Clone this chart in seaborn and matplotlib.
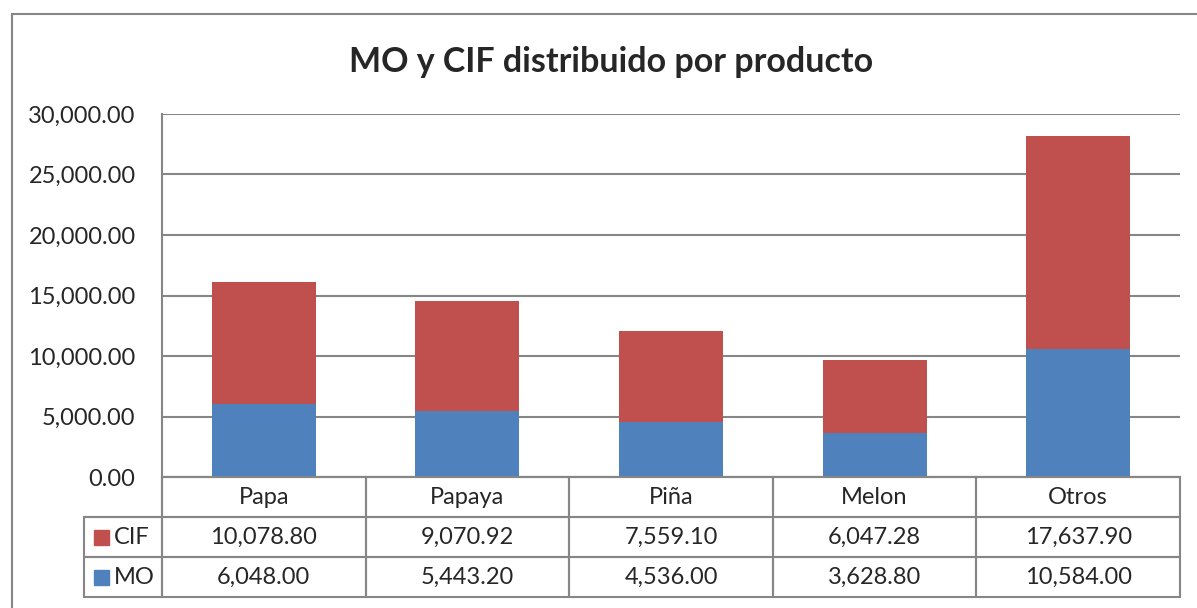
import matplotlib.pyplot as plt
import seaborn as sns
import pandas as pd
from matplotlib.patches import Rectangle
from matplotlib.ticker import FuncFormatter

productos = ['Papa', 'Papaya', 'Piña', 'Melon', 'Otros']
mo = [6048.00, 5443.20, 4536.00, 3628.80, 10584.00]
cif = [10078.80, 9070.92, 7559.10, 6047.28, 17637.90]

azul = '#4F81BD'
rojo = '#C0504D'
gris = '#868686'

sns.set_style('white')
plt.rcParams['font.family'] = ['Lato', 'DejaVu Sans']

df = pd.DataFrame({'producto': productos, 'MO': mo, 'CIF': cif})
df['total'] = df['MO'] + df['CIF']

W, H = 1197, 608
fig = plt.figure(figsize=(W / 100, H / 100), dpi=100)
# plot area in pixels: x 162..1180, y 114..477
ax = fig.add_axes([162 / W, 1 - 477 / H, (1180 - 162) / W, (477 - 114) / H])


def ax_x(px):
    return (px - 162) / 1018


def ax_y(py):
    return (477 - py) / 363


# stacked bars: total (red) behind, MO (blue) in front
sns.barplot(data=df, x='producto', y='total', color=rojo, width=0.51,
            saturation=1, linewidth=0, ax=ax)
sns.barplot(data=df, x='producto', y='MO', color=azul, width=0.51,
            saturation=1, linewidth=0, ax=ax)

ax.set_xlim(-0.5, len(productos) - 0.5)
ax.set_ylim(0, 30000)
ax.set_yticks(range(0, 30001, 5000))
ax.yaxis.set_major_formatter(FuncFormatter(lambda v, p: f'{v:,.2f}'))
ax.tick_params(axis='y', length=0, pad=19, labelsize=17)
ax.set_xticks([])
ax.set_xlabel('')
ax.set_ylabel('')
ax.grid(axis='y', color=gris, linewidth=1.5)
ax.set_axisbelow(True)
for lado in ['top', 'right']:
    ax.spines[lado].set_visible(False)
for lado in ['left', 'bottom']:
    ax.spines[lado].set_color(gris)
    ax.spines[lado].set_linewidth(1.5)

# data table under the plot
celdas = [[''] + productos,
          [''] + [f'{v:,.2f}' for v in cif],
          [''] + [f'{v:,.2f}' for v in mo]]
ancho_lab = 78 / 1018
tabla = ax.table(cellText=celdas, cellLoc='center',
                 colWidths=[ancho_lab] + [1 / 5] * 5,
                 bbox=[-ancho_lab, ax_y(597), 1 + ancho_lab, 120 / 363])
tabla.auto_set_font_size(False)
tabla.set_fontsize(17)
for (r, c), celda in tabla.get_celld().items():
    celda.set_edgecolor(gris)
    celda.set_linewidth(1.5)
    celda.set_facecolor('none')
tabla[0, 0].visible_edges = 'BR'

for nombre, color, py in [('CIF', rojo, 537), ('MO', azul, 577)]:
    ax.add_patch(Rectangle((ax_x(94), ax_y(py + 7.5)), 15 / 1018, 15 / 363,
                           transform=ax.transAxes, color=color, clip_on=False))
    ax.text(ax_x(114), ax_y(py), nombre, transform=ax.transAxes,
            ha='left', va='center', fontsize=17)

fig.text(611 / W, 1 - 62 / H, 'MO y CIF distribuido por producto',
         ha='center', va='center', fontsize=24.5, fontweight='bold')

# outer chart frame (cut off at right and bottom)
fig.add_artist(Rectangle((12 / W, -0.1), 1.2, (H - 14) / H + 0.1,
                         transform=fig.transFigure, fill=False,
                         edgecolor=gris, linewidth=1.5))

fig.savefig('out.png', dpi=100)
